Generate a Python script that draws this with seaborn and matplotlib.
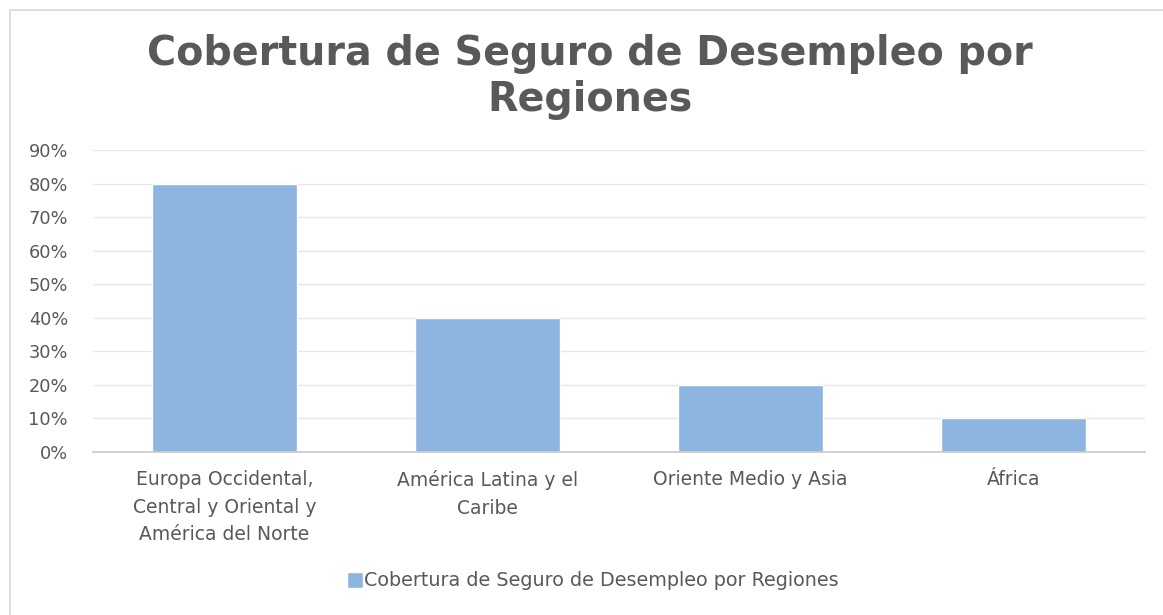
import matplotlib
matplotlib.use("Agg")
import matplotlib.pyplot as plt
from matplotlib.patches import Rectangle
from matplotlib.ticker import PercentFormatter
import seaborn as sns
import pandas as pd

# data
regions = ["Europa Occidental,\nCentral y Oriental y\nAmérica del Norte",
           "América Latina y el\nCaribe",
           "Oriente Medio y Asia",
           "África"]
coverage = [0.80, 0.40, 0.20, 0.10]
series_name = "Cobertura de Seguro de Desempleo por Regiones"
title = "Cobertura de Seguro de Desempleo por\nRegiones"
y_ticks = [0, 0.1, 0.2, 0.3, 0.4, 0.5, 0.6, 0.7, 0.8, 0.9]

df = pd.DataFrame({"region": regions, "cobertura": coverage, "serie": series_name})

sns.set_theme(style="white")
plt.rcParams['font.family'] = ['DejaVu Sans']

bar_color = "#8DB5E0"
text_grey = "#595959"

fig = plt.figure(figsize=(11.63, 6.15), dpi=100)
ax = fig.add_axes([93 / 1163, 1 - 452 / 615, 1052 / 1163, 302 / 615])

sns.barplot(data=df, x="region", y="cobertura", hue="serie", palette=[bar_color],
            width=0.555, ax=ax, legend=True, saturation=1)

ax.set_ylim(0, 0.9)
ax.set_xlim(-0.5, 3.5)
ax.set_yticks(y_ticks)
ax.yaxis.set_major_formatter(PercentFormatter(1.0, decimals=0))
ax.grid(axis="y", color="#E6E6E6", linewidth=1)
ax.set_axisbelow(True)
for s in ["top", "right", "left"]:
    ax.spines[s].set_visible(False)
ax.spines["bottom"].set_color("#C8C8C8")
ax.spines["bottom"].set_linewidth(1.2)
ax.set_xlabel("")
ax.set_ylabel("")
ax.tick_params(axis="y", length=0, pad=18, labelsize=12.8, labelcolor=text_grey)
ax.tick_params(axis="x", length=0, pad=13, labelsize=13.5, labelcolor=text_grey)
for lbl in ax.get_xticklabels():
    lbl.set_linespacing(1.58)
    lbl.set_verticalalignment("top")

leg = ax.legend(loc="center", bbox_to_anchor=(0.51, 1 - 581 / 615), bbox_transform=fig.transFigure,
                frameon=False, fontsize=13.8, handlelength=0.85, handleheight=0.85,
                handletextpad=0.05, labelcolor=text_grey)

fig.text(0.507, 1 - 77 / 615, title, ha="center", va="center", fontsize=28.5,
         fontweight="bold", color=text_grey, linespacing=1.2)

# chart border
fig.patches.append(Rectangle((10 / 1163, -0.01), 1.05, 1 - 10 / 615 + 0.01, transform=fig.transFigure,
                             fill=False, edgecolor="#D9D9D9", linewidth=1.2))

fig.savefig("out.png", dpi=100, facecolor="white")
